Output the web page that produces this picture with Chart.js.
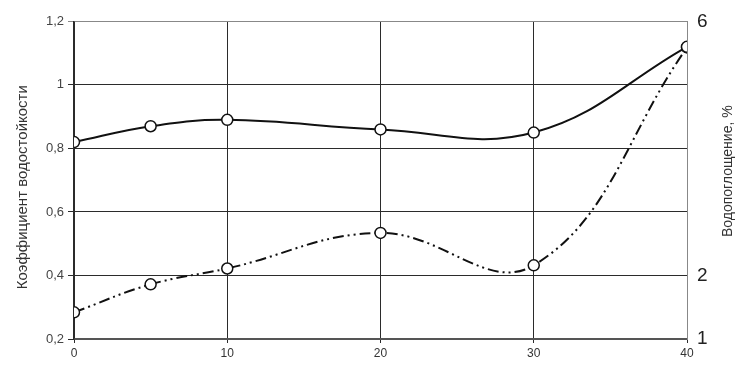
<!DOCTYPE html>
<html>
<head>
<meta charset="utf-8">
<script src="https://cdn.jsdelivr.net/npm/chart.js@4"></script>
<style>
  html, body { margin: 0; padding: 0; background: #fff; }
  #wrap { width: 741px; height: 367px; position: relative; }
</style>
</head>
<body>
<div id="wrap"><canvas id="chart"></canvas></div>
<script>
// данные с графика
const xVals = [0, 5, 10, 20, 30, 40];
const koefVodost = [0.82, 0.87, 0.89, 0.86, 0.85, 1.12];
const vodopogl = [1.42, 1.86, 2.11, 2.67, 2.16, 5.59];
const rightTicks = [1, 2, 6];

const LEFT_TITLE = 'Коэффициент водостойкости';
const RIGHT_TITLE = 'Водопоглощение, %';
const DARK = '#2b2b2b';

function toPoints(ys) {
    return xVals.map((x, i) => ({ x, y: ys[i] }));
}

// подписи осей рисуем сами (правая читается снизу вверх)
const axisTitles = {
    id: 'axisTitles',
    afterDraw(chart) {
        const { ctx, chartArea } = chart;
        const cy = (chartArea.top + chartArea.bottom) / 2;
        ctx.save();
        ctx.fillStyle = '#333';
        ctx.font = '15px "Liberation Sans", Arial, sans-serif';
        ctx.textAlign = 'center';
        ctx.textBaseline = 'middle';
        ctx.translate(23, cy + 7);
        ctx.rotate(-Math.PI / 2);
        ctx.fillText(LEFT_TITLE, 0, 0);
        ctx.restore();

        ctx.save();
        ctx.fillStyle = '#333';
        ctx.font = '14px "Liberation Sans", Arial, sans-serif';
        ctx.textAlign = 'center';
        ctx.textBaseline = 'middle';
        ctx.translate(728, cy - 9);
        ctx.rotate(-Math.PI / 2);
        ctx.fillText(RIGHT_TITLE, 0, 0);
        ctx.restore();
    }
};

const pointStyle = {
    pointRadius: 5.5,
    pointHoverRadius: 5.5,
    pointBackgroundColor: '#fff',
    pointBorderColor: '#111',
    pointBorderWidth: 1.5
};

new Chart(document.getElementById('chart'), {
    type: 'line',
    data: {
        datasets: [
            {
                label: 'Кв',
                data: toPoints(koefVodost),
                yAxisID: 'y',
                borderColor: '#111',
                borderWidth: 2,
                tension: 0.4,
                ...pointStyle
            },
            {
                label: 'W',
                data: toPoints(vodopogl),
                yAxisID: 'y2',
                borderColor: '#111',
                borderWidth: 2,
                borderDash: [11, 4, 2, 4, 2, 4],
                tension: 0.4,
                ...pointStyle
            }
        ]
    },
    options: {
        responsive: true,
        maintainAspectRatio: false,
        animation: false,
        layout: { padding: { top: 20, left: 0, right: 0, bottom: 0 } },
        plugins: {
            legend: { display: false },
            tooltip: { enabled: false }
        },
        scales: {
            x: {
                type: 'linear',
                min: 0,
                max: 40,
                ticks: {
                    stepSize: 10,
                    color: '#333',
                    padding: 3,
                    font: { family: '"Liberation Sans Narrow", "Liberation Sans", Arial', size: 12 }
                },
                grid: {
                    color: DARK,
                    lineWidth: 1,
                    tickLength: 4
                },
                border: { color: '#555', width: 2 },
                afterFit: s => { s.height = 28; }
            },
            y: {
                position: 'left',
                min: 0.2,
                max: 1.2,
                ticks: {
                    stepSize: 0.2,
                    color: '#444',
                    padding: 4,
                    font: { family: '"Liberation Sans", Arial', size: 13 },
                    callback: v => (Math.round(v * 10) / 10).toString().replace('.', ',')
                },
                grid: {
                    color: ctx => (ctx.index === ctx.scale.ticks.length - 1 ? '#888' : DARK),
                    lineWidth: 1,
                    tickLength: 6
                },
                border: { color: DARK, width: 1.5 },
                afterFit: s => { s.width = 74; }
            },
            y2: {
                position: 'right',
                min: 1,
                max: 6,
                afterBuildTicks: s => { s.ticks = rightTicks.map(v => ({ value: v })); },
                ticks: {
                    color: '#222',
                    padding: 10,
                    font: { family: '"Liberation Sans", Arial', size: 19 }
                },
                grid: { display: false, drawTicks: false },
                border: { color: '#888', width: 1 },
                afterFit: s => { s.width = 54; }
            }
        }
    },
    plugins: [axisTitles]
});
</script>
</body>
</html>
